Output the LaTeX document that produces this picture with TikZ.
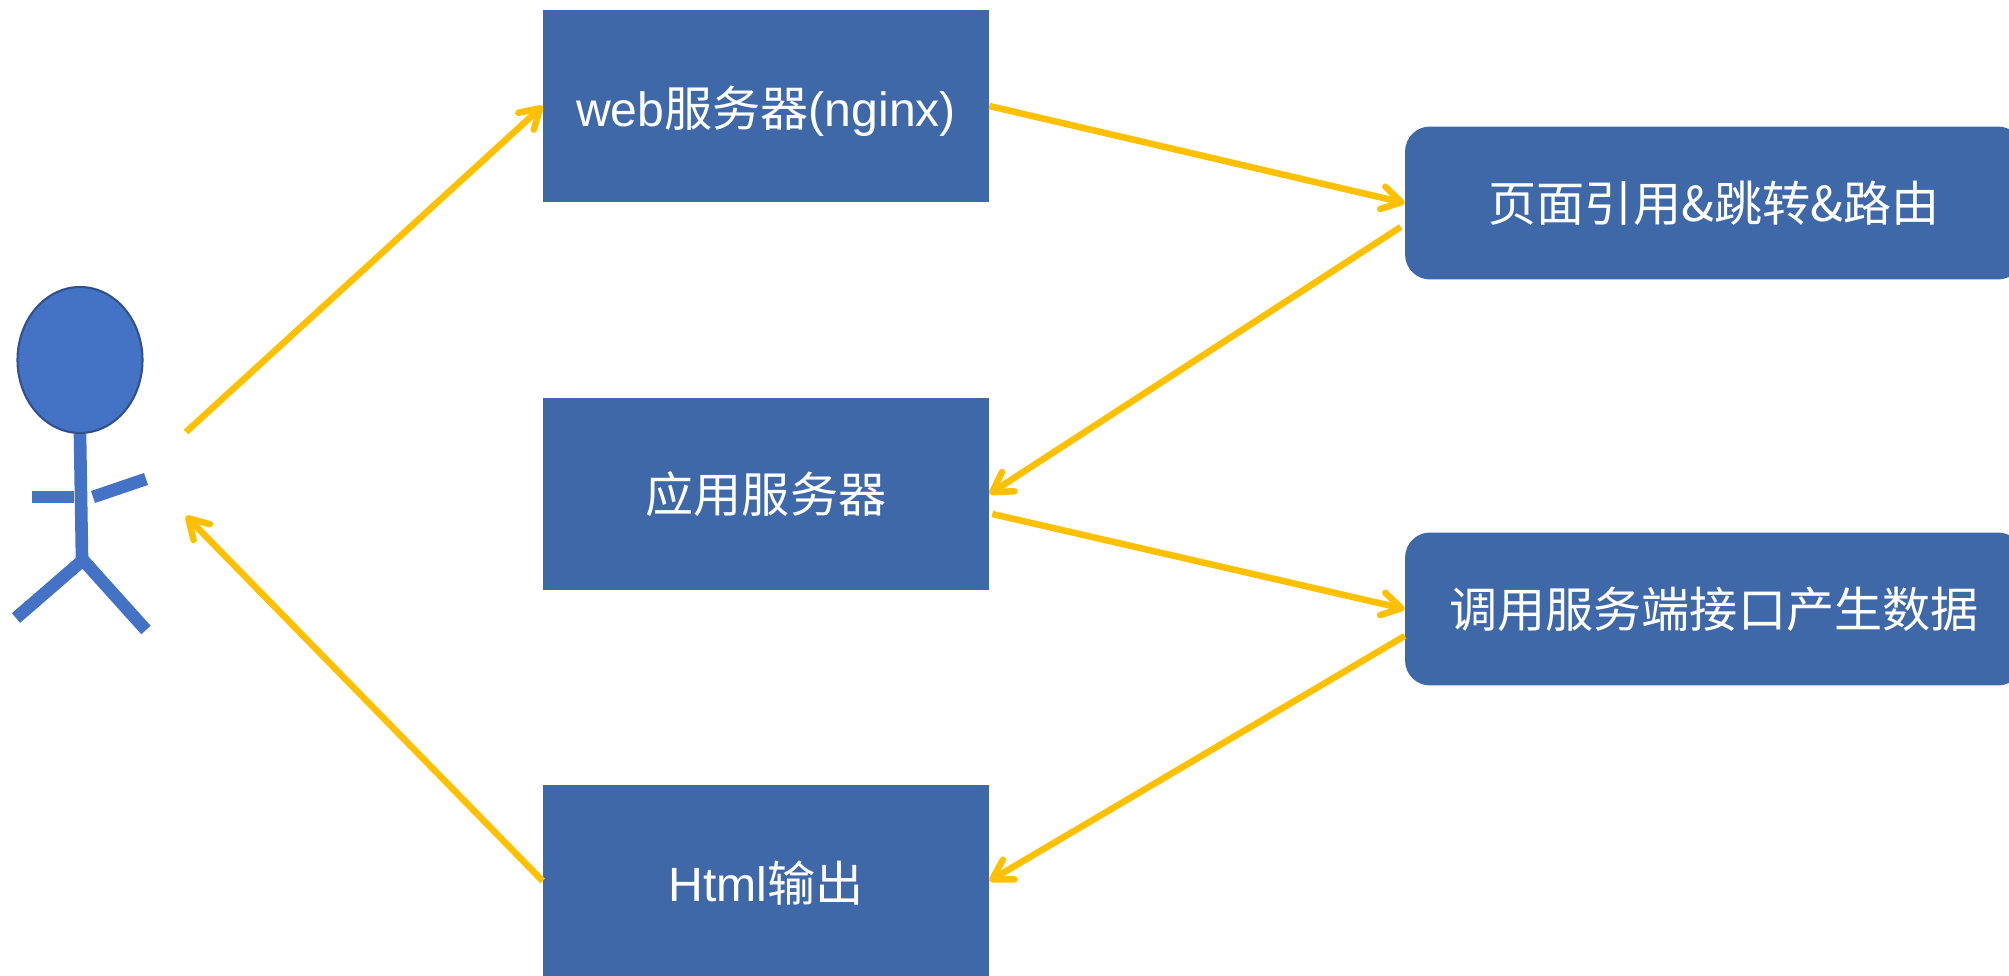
\documentclass[tikz,border=0pt]{standalone}
\usepackage{fontspec}
\setmainfont{Liberation Sans}
\newfontfamily\cjk{Noto Sans CJK SC}
\usetikzlibrary{arrows.meta,shapes.geometric}
\definecolor{boxblue}{HTML}{3F68A9}
\definecolor{manblue}{HTML}{4472C4}
\definecolor{headline}{HTML}{2F528F}
\definecolor{flow}{HTML}{FFC000}
\begin{document}
\begin{tikzpicture}[x=.02cm,y=-.02cm,
    >={Straight Barb[length=11pt,width=13pt,round]},
    flowline/.style={->, flow, line width=3.7pt},
    limb/.style={manblue, line width=7.2pt},
    server/.style={fill=boxblue, text=white, inner sep=0pt, minimum width=8.92cm, minimum height=3.84cm, font=\fontsize{27.4}{30}\selectfont},
    mixed/.style={server, text height=25pt, text depth=2pt},
    task/.style={server, rounded corners=.5cm, minimum width=12.36cm, minimum height=3.06cm}]
        \useasboundingbox (0, 0) rectangle (2009, 976);
        % Servers
        \node[mixed] (web) at (766, 106) {web{\cjk 服务器}(nginx)};
        \node[server] (app) at (766, 494) {\cjk 应用服务器};
        \node[mixed] (html) at (766, 881) {Html{\cjk 输出}};
        % Right column
        \node[task] (page) at (1714, 203) {\cjk 页面引用\&跳转\&路由};
        \node[task] (api) at (1714, 609) {\cjk 调用服务端接口产生数据};
        % Stick man
        \node[draw=headline, fill=manblue, line width=1.2pt, ellipse, inner sep=0pt, minimum width=2.5cm, minimum height=2.92cm] (head) at (80, 360) {};
        \draw[limb] (head.south) -- (82, 558);
        \draw[limb] (32, 497) -- (74, 497);
        \draw[limb] (93, 497) -- (146, 479);
        \draw[limb] (16, 618) -- (83, 560) -- (146, 630);
        % Free ends next to the man
        \coordinate (manout) at (186, 432);
        \coordinate (manin) at (186, 516);
        % Flow
        \draw[flowline] (manout) -- (web.west);
        \draw[flowline] (web.east) -- (page.west);
        \draw[flowline] ([xshift=-.08cm,yshift=-.48cm]page.west) -- (app.east);
        \draw[flowline] ([xshift=.06cm,yshift=-.4cm]app.east) -- (api.west);
        \draw[flowline] ([yshift=-.54cm]api.west) -- (html.east);
        \draw[flowline] (html.west) -- (manin);
      \end{tikzpicture}
\end{document}
